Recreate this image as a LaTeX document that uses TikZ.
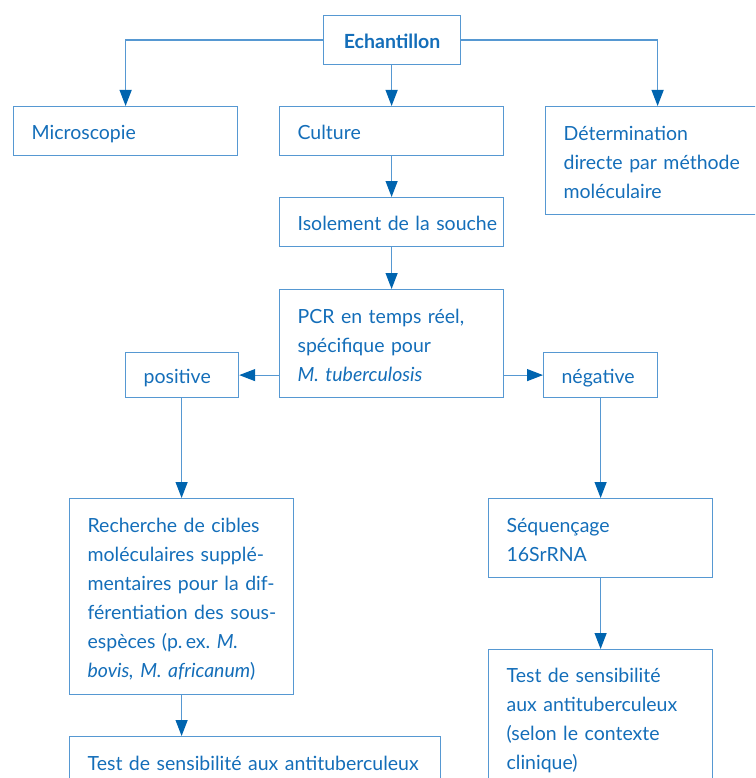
\documentclass[tikz,border=0pt]{standalone}
\usepackage{fontspec}
\setmainfont{Lato}
\usetikzlibrary{arrows.meta}
\frenchspacing

\definecolor{boxline}{RGB}{86,152,210}
\definecolor{ink}{RGB}{20,110,185}
\definecolor{tipblue}{RGB}{0,100,175}

% uniform line height/depth so every box sets its text at the same height
\newcommand\st{\rule[-4pt]{0pt}{25pt}}
% one unbreakable line of box text
\newcommand\bl[1]{\mbox{#1}}

\tikzset{
  box/.style={draw=boxline, line width=1.2pt, text=ink, inner xsep=18pt,
    inner ysep=0pt, align=left, anchor=north west,
    font=\fontsize{19.5}{29}\selectfont},
  arr/.style={draw=boxline, line width=1.2pt,
    -{Triangle[length=16pt,width=12pt,color=tipblue]}}
}

\begin{document}
\begin{tikzpicture}[x=1pt,y=-1pt]
\clip (0,0) rectangle (755,778);

% top level
\node[box, align=center, text width=101pt, minimum height=49pt,
      font=\fontsize{19.5}{29}\selectfont\bfseries] (ech) at (323,15) {\st Echantillon};
\node[box, text width=188pt, minimum height=49pt] (mic) at (13,106) {\st Microscopie};
\node[box, text width=188pt, minimum height=49pt] (cul) at (279,106) {\st Culture};
\node[box, text width=188pt, minimum height=108pt] (det) at (545,106)
  {\st\bl{Détermination}\\\bl{directe par méthode}\\\st\bl{moléculaire}};

% culture branch
\node[box, text width=188pt, minimum height=49pt] (iso) at (279,197)
  {\st\bl{Isolement de la souche}};
\node[box, text width=188pt, minimum height=108pt] (pcr) at (279,289)
  {\st\bl{PCR en temps réel,}\\\bl{spécifique pour}\\\st\bl{\textit{M. tuberculosis}}};
\node[box, text width=77pt, minimum height=45pt] (pos) at (125,352) {\st positive};
\node[box, text width=78pt, minimum height=45pt] (neg) at (543,352) {\st négative};

% positive result
\node[box, text width=188pt, minimum height=196pt] (rech) at (69,498)
  {\st\bl{Recherche de cibles}\\\bl{moléculaires supplé-}\\\bl{mentaires pour la dif-}\\
   \bl{férentiation des sous-}\\\bl{espèces (p.\,ex. \textit{M.}}\\\st\bl{\textit{bovis, M. africanum})}};
\node[box, text width=335pt, minimum height=50pt] (testL) at (69,736)
  {\st\bl{Test de sensibilité aux antituberculeux}};

% negative result
\node[box, text width=188pt, minimum height=79pt] (seq) at (488,498)
  {\st\bl{Séquençage}\\\st\bl{16SrRNA}};
\node[box, text width=188pt, minimum height=135pt] (testR) at (488,649)
  {\st\bl{Test de sensibilité}\\\bl{aux antituberculeux}\\\bl{(selon le contexte}\\\st\bl{clinique)}};

% connectors
\draw[arr] (ech.west) -| (mic.north);
\draw[arr] (cul.north |- ech.south) -- (cul.north);
\draw[arr] (ech.east) -| (det.north);
\draw[arr] (cul.south) -- (iso.north);
\draw[arr] (iso.south) -- (pcr.north);
\draw[arr] (pcr.west |- pos.east) -- (pos.east);
\draw[arr] (pcr.east |- neg.west) -- (neg.west);
\draw[arr] (rech.north |- pos.south) -- (rech.north);
\draw[arr] (neg.south) -- (seq.north);
\draw[arr] (rech.south) -- (rech.south |- testL.north);
\draw[arr] (seq.south) -- (testR.north);
\end{tikzpicture}
\end{document}
